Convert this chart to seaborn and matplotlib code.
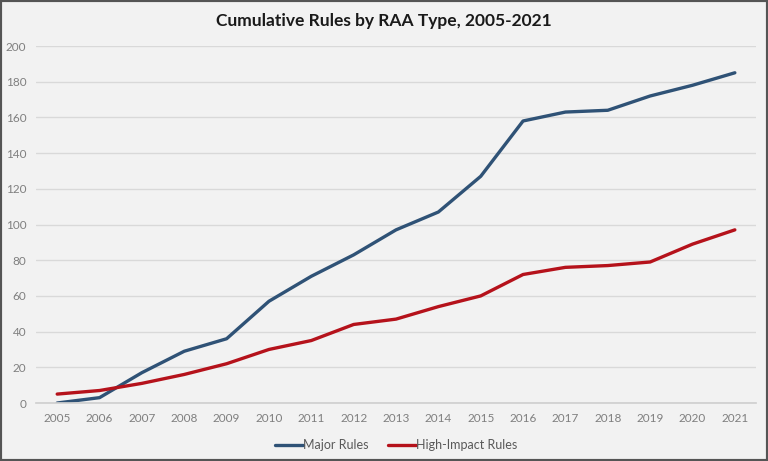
import matplotlib
matplotlib.use("Agg")
import matplotlib.pyplot as plt
import matplotlib.patches as mpatches
import seaborn as sns
import pandas as pd

years = list(range(2005, 2022))
major_rules = [0, 3, 17, 29, 36, 57, 71, 83, 97, 107, 127, 158, 163, 164, 172, 178, 185]
high_impact_rules = [5, 7, 11, 16, 22, 30, 35, 44, 47, 54, 60, 72, 76, 77, 79, 89, 97]
series_names = ["Major Rules", "High-Impact Rules"]
y_ticks = list(range(0, 201, 20))

df = pd.DataFrame({
    "Year": years * 2,
    "Rules": major_rules + high_impact_rules,
    "Series": [series_names[0]] * len(years) + [series_names[1]] * len(years),
})

sns.set_theme(style="white")
plt.rcParams["font.family"] = ["Lato", "DejaVu Sans"]

bg = "#f2f2f2"
fig = plt.figure(figsize=(7.68, 4.61), dpi=100, facecolor=bg)
ax = fig.add_axes([0.0469, 0.1258, 0.9375, 0.7744])
ax.set_facecolor(bg)

palette = {series_names[0]: "#2f5276", series_names[1]: "#b5121b"}
sns.lineplot(data=df, x="Year", y="Rules", hue="Series", palette=palette,
             linewidth=2.4, ax=ax, legend=True)

ax.set_xlim(2004.5, 2021.5)
ax.set_ylim(0, 200)
ax.set_yticks(y_ticks)
ax.set_xticks(years)
ax.set_xticklabels([str(y) for y in years])
ax.yaxis.grid(True, color="#d9d9d9", linewidth=1)
ax.set_axisbelow(True)
for s in ["top", "right", "left"]:
    ax.spines[s].set_visible(False)
ax.spines["bottom"].set_color("#d0d0d0")
ax.tick_params(axis="both", length=0, labelsize=8.5, labelcolor="#7f7f7f")
ax.tick_params(axis="x", pad=7)
ax.tick_params(axis="y", pad=7)
ax.set_xlabel("")
ax.set_ylabel("")

leg = ax.legend(loc="upper center", bbox_to_anchor=(0.5, -0.07), ncol=2,
                frameon=False, fontsize=9, handlelength=2.2, handletextpad=0.0,
                columnspacing=1.6)
for t in leg.get_texts():
    t.set_color("#595959")

fig.text(0.5, 0.955, "Cumulative Rules by RAA Type, 2005-2021", ha="center", va="center",
         fontsize=12.5, fontweight="bold", color="#1a1a1a")

fig.patches.append(mpatches.Rectangle((0, 0), 1, 1, transform=fig.transFigure,
                                      fill=False, edgecolor="#555555", linewidth=3))

fig.savefig("out.png", dpi=100, facecolor=bg)
